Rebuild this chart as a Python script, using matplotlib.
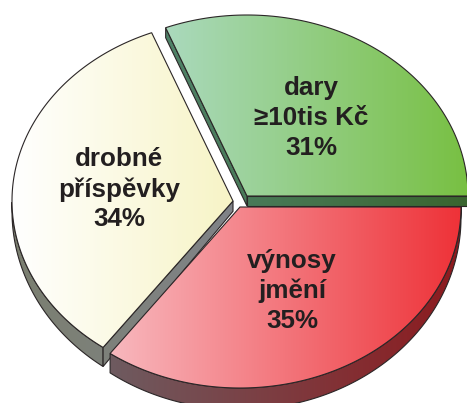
import numpy as np
import matplotlib.pyplot as plt
from matplotlib.patches import Polygon
from matplotlib.colors import LinearSegmentedColormap

labels = ['dary\n≥10tis Kč', 'drobné\npříspěvky', 'výnosy\njmění']
values = [31, 34, 35]

# gradient colours, left -> right
top_colors = [('#aad9bd', '#78c042'), ('#ffffff', '#f7f4c6'), ('#f8b8be', '#ee3238')]
side_colors = [('#4f8268', '#3a652f'), ('#7b7f70', '#808388'), ('#6e5b60', '#8d1a1e')]
# exploded slice centres (pixels)
centers = [(247, 196), (233, 201), (240, 207)]
rx, ry = 221, 181


def depth(y):
    return 10 + 9 * max(y - 196, 0) / 150.0


def grad_fill(ax, pts, c1, c2, x0, x1, z):
    pts = np.asarray(pts)
    patch = Polygon(pts, closed=True, facecolor='none', edgecolor='#2b2627',
                    lw=0.8, zorder=z + 0.5)
    ax.add_patch(patch)
    cmap = LinearSegmentedColormap.from_list('g', [c1, c2])
    grad = np.linspace(0, 1, 256).reshape(1, -1)
    im = ax.imshow(grad, cmap=cmap, aspect='auto', interpolation='bilinear',
                   extent=(x0, x1, pts[:, 1].max() + 1, pts[:, 1].min() - 1), zorder=z)
    im.set_clip_path(patch)


def extrude(pts):
    pts = list(pts)
    low = [(x, y + depth(y)) for x, y in reversed(pts)]
    return pts + low


fig = plt.figure(figsize=(4.67, 4.03), dpi=100)
ax = fig.add_axes([0, 0, 1, 1])

fracs = np.array(values) / sum(values)
starts = np.concatenate([[0], np.cumsum(fracs)[:-1]]) * 2 * np.pi
ends = np.cumsum(fracs) * 2 * np.pi

z = 1
for i in range(len(values)):
    cx, cy = centers[i]
    t1, t2 = starts[i], ends[i]
    th = np.linspace(t1, t2, 300)
    ax_pts = np.column_stack([cx + rx * np.cos(th), cy - ry * np.sin(th)])
    apex = (cx, cy)
    x0, x1 = min(cx, ax_pts[:, 0].min()), max(cx, ax_pts[:, 0].max())
    sc1, sc2 = side_colors[i]

    # visible side faces
    if np.cos(t1) > 0:
        grad_fill(ax, extrude([apex, tuple(ax_pts[0])]), sc1, sc2, x0, x1, z)
    front = np.sin(th) < 0
    if front.any():
        grad_fill(ax, extrude([tuple(p) for p in ax_pts[front]]), sc1, sc2, x0, x1, z + 1)
    if np.cos(t2) < 0:
        grad_fill(ax, extrude([tuple(ax_pts[-1]), apex]), sc1, sc2, x0, x1, z + 2)

    # top face
    top = np.vstack([[apex], ax_pts])
    tc1, tc2 = top_colors[i]
    grad_fill(ax, top, tc1, tc2, x0, x1, z + 3)

    mid = (t1 + t2) / 2
    f = 0.52
    ax.text(cx + f * rx * np.cos(mid), cy - f * ry * np.sin(mid),
            labels[i] + '\n' + f'{values[i]}%', ha='center', va='center',
            fontsize=18.7, fontweight='bold', family='Liberation Sans',
            color='#231f20', linespacing=1.3, zorder=50)
    z += 5

ax.set_xlim(0, 467)
ax.set_ylim(403, 0)
ax.axis('off')
fig.savefig('out.png', dpi=100)
